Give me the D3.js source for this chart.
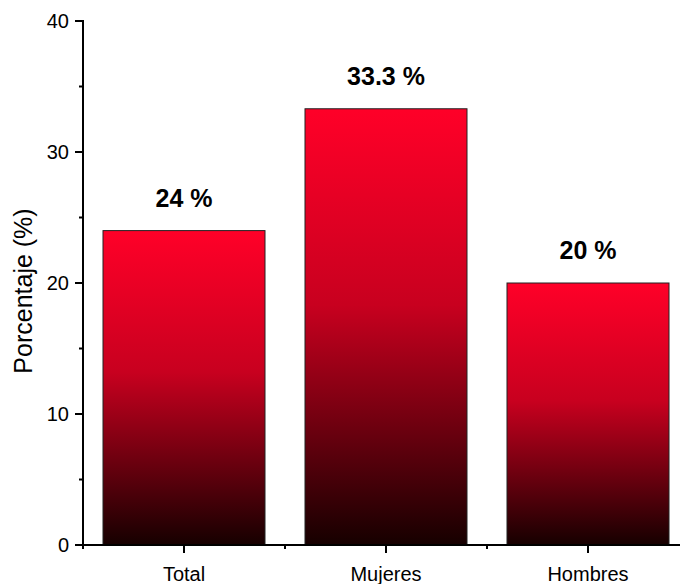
<!DOCTYPE html>
<html><head><meta charset="utf-8">
<script src="https://cdn.jsdelivr.net/npm/d3@7"></script>
<style>body{margin:0;background:#fff}svg{display:block}text{font-family:"Liberation Sans",Arial,sans-serif}</style>
</head><body><svg id="c" width="680" height="584"></svg>
<script>
const categories = ["Total","Mujeres","Hombres"];
const values = [24, 33.3, 20];
const valueLabels = ["24 %","33.3 %","20 %"];
const yTicks = [0,10,20,30,40];

const svg = d3.select("#c");
const x0 = 83, yBase = 545, yTop = 21;
const x = d3.scaleBand().domain(categories).range([x0, x0 + 3*202]).paddingInner(0.198).paddingOuter(0.099);
const y = d3.scaleLinear().domain([0,40]).range([yBase, yTop]);

const defs = svg.append("defs");
const g = defs.append("linearGradient").attr("id","grad").attr("x1",0).attr("y1",0).attr("x2",0).attr("y2",1);
g.append("stop").attr("offset","0%").attr("stop-color","#ff0028");
g.append("stop").attr("offset","45%").attr("stop-color","#c8001f");
g.append("stop").attr("offset","100%").attr("stop-color","#160000");

svg.selectAll("rect.bar").data(values).enter().append("rect")
  .attr("x",(d,i)=>x(categories[i])).attr("width",x.bandwidth())
  .attr("y",d=>y(d)).attr("height",d=>yBase-y(d))
  .attr("fill","url(#grad)").attr("stroke","#222").attr("stroke-width",1);

svg.selectAll("text.val").data(values).enter().append("text")
  .attr("x",(d,i)=>x(categories[i])+x.bandwidth()/2).attr("y",d=>y(d)-24)
  .attr("text-anchor","middle").attr("font-weight","bold").attr("font-size",25).attr("fill","#000")
  .text((d,i)=>valueLabels[i]);

// y axis
const ax = svg.append("g").attr("stroke","#000").attr("stroke-width",2);
ax.append("line").attr("x1",x0).attr("x2",x0).attr("y1",yTop-1).attr("y2",yBase);
yTicks.forEach(t=>{
  ax.append("line").attr("x1",x0-8).attr("x2",x0).attr("y1",y(t)).attr("y2",y(t));
});
[5,15,25,35].forEach(t=>{
  ax.append("line").attr("x1",x0-4).attr("x2",x0).attr("y1",y(t)).attr("y2",y(t));
});
svg.selectAll("text.yt").data(yTicks).enter().append("text")
  .attr("x",x0-14).attr("y",d=>y(d)+7).attr("text-anchor","end").attr("font-size",20).text(d=>d);

// x axis
ax.append("line").attr("x1",x0-1).attr("x2",680).attr("y1",yBase).attr("y2",yBase);
categories.forEach(c=>{
  const cx = x(c)+x.bandwidth()/2;
  ax.append("line").attr("x1",cx).attr("x2",cx).attr("y1",yBase).attr("y2",yBase+8);
});
[0,1,2].forEach(i=>{
  const bx = x0 + i*x.step();
  ax.append("line").attr("x1",bx).attr("x2",bx).attr("y1",yBase).attr("y2",yBase+4);
});
svg.selectAll("text.xt").data(categories).enter().append("text")
  .attr("x",d=>x(d)+x.bandwidth()/2).attr("y",581).attr("text-anchor","middle").attr("font-size",20).text(d=>d);

svg.append("text").attr("transform","translate(32,291) rotate(-90)").attr("text-anchor","middle")
  .attr("font-size",25).text("Porcentaje (%)");
</script></body></html>
